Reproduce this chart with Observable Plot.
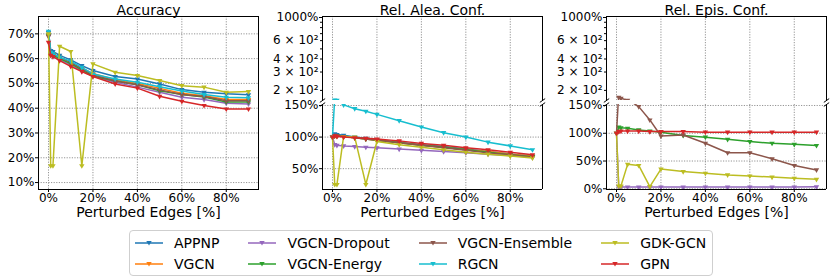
<!DOCTYPE html>
<html><head><meta charset="utf-8">
<script src="https://cdn.jsdelivr.net/npm/d3@7"></script>
<script src="https://cdn.jsdelivr.net/npm/@observablehq/plot@0.6"></script>
<style>
body{margin:0;background:#fff;font-family:"DejaVu Sans",sans-serif;}
#wrap{position:relative;width:830px;height:279px;overflow:hidden;}
#charts svg{position:absolute;left:0;top:0;}
#legend{position:absolute;left:129px;top:230px;box-sizing:border-box;border:1px solid #cfcfcf;border-radius:4px;
  display:inline-grid;grid-auto-flow:column;grid-template-rows:repeat(2,21px);grid-template-columns:repeat(4,auto);
  column-gap:29px;padding:1px 6px 1px 5px;font-size:14px;color:#000;}
.item{display:flex;align-items:center;white-space:nowrap;}
.item svg{margin-right:11px;}
</style></head><body>
<div id="wrap"><div id="charts"></div><div id="legend"></div></div>
<script>
// ---------- data ----------
const edges = [0, 1, 2, 5, 10, 15, 20, 30, 40, 50, 60, 70, 80, 90];
const models = ["APPNP", "VGCN", "VGCN-Dropout", "VGCN-Energy", "VGCN-Ensemble", "RGCN", "GDK-GCN", "GPN"];
const colors = ["#1f77b4", "#ff7f0e", "#9467bd", "#2ca02c", "#8c564b", "#17becf", "#bcbd22", "#d62728"];

const accuracy = {
  "APPNP":         [70.5, 63.3, 62.9, 61.3, 59.5, 57.2, 55.2, 52.8, 51.8, 49.8, 47.5, 46.4, 45.8, 45.4],
  "VGCN":          [69.5, 62.0, 61.5, 60.0, 58.0, 56.0, 54.0, 51.5, 50.0, 48.0, 46.0, 45.0, 43.5, 43.5],
  "VGCN-Dropout":  [69.0, 61.5, 61.0, 59.5, 57.5, 55.0, 53.0, 50.5, 48.5, 46.4, 44.4, 43.5, 42.0, 41.7],
  "VGCN-Energy":   [69.5, 62.0, 61.5, 60.0, 58.0, 55.5, 53.0, 51.0, 49.5, 47.0, 45.5, 44.5, 42.5, 42.5],
  "VGCN-Ensemble": [69.0, 62.5, 62.0, 60.5, 58.5, 56.0, 53.5, 51.0, 49.5, 47.4, 45.5, 44.7, 43.0, 43.0],
  "RGCN":          [71.0, 62.5, 62.0, 60.5, 59.0, 56.5, 53.8, 51.8, 50.5, 48.7, 46.9, 45.5, 44.4, 44.2],
  "GDK-GCN":       [70.0, 16.8, 16.8, 65.0, 62.9, 16.8, 57.9, 54.5, 53.2, 51.2, 49.1, 48.5, 46.4, 46.7],
  "GPN":           [66.6, 61.3, 60.8, 59.2, 56.9, 54.8, 52.8, 49.8, 48.1, 44.8, 42.8, 41.1, 39.7, 39.7]
};
const aleatoric = {
  "APPNP":         [100, 105, 104, 103, 100, 98, 96, 92, 88, 85, 81, 77, 73, 70],
  "VGCN":          [100, 102, 102, 101, 99, 97, 95, 91, 87, 84, 80, 77, 73, 70],
  "VGCN-Dropout":  [100, 88, 87, 86, 85, 84, 83, 81, 79, 77, 75, 73, 71, 68],
  "VGCN-Energy":   [100, 102, 102, 101, 99, 97, 95, 91, 87, 84, 80, 76, 72, 69],
  "VGCN-Ensemble": [100, 103, 102, 101, 99, 97, 95, 91, 87, 83, 79, 75, 72, 68],
  "RGCN":          [100, 162, 161, 151, 145, 141, 136, 126, 116, 107, 100, 92, 86, 80],
  "GDK-GCN":       [100, 25, 25, 101, 100, 25, 93, 88, 84, 80, 76, 73, 70, 67],
  "GPN":           [100, 102, 101, 100, 99, 98, 97, 94, 90, 87, 83, 80, 76, 72]
};
const epistemic = {
  "VGCN-Dropout":  [100, 3, 3, 3, 3, 3, 3, 3, 3, 3, 3, 3, 3, 3.5],
  "VGCN-Energy":   [100, 111, 110, 109, 106, 104, 102, 96, 93, 89, 85, 82, 80, 78],
  "VGCN-Ensemble": [100, 172, 168, 161, 148, 124, 95, 97, 82, 65, 65, 54, 42, 34],
  "GDK-GCN":       [100, 5, 5, 44, 42, 4, 35.5, 31, 28, 25, 23, 21, 19, 17],
  "GPN":           [100, 103, 104, 104, 104, 103, 103, 103, 102, 102, 102, 102, 102, 102]
};

const titles = ["Accuracy", "Rel. Alea. Conf.", "Rel. Epis. Conf."];
const xLabel = "Perturbed Edges [%]";
const xTicks = [0, 20, 40, 60, 80];
const accTicks = [10, 20, 30, 40, 50, 60, 70];
const aleaTicks = [50, 100, 150];
const episTicks = [0, 50, 100, 150];
const logMajorTicks = [1000];
const logMinorTicks = [200, 300, 400, 500, 600, 700, 800, 900];
const logLabelTicks = [200, 300, 400, 600];
const logLabelText = ["2 × 10²", "3 × 10²", "4 × 10²", "6 × 10²"];

// ---------- layout ----------
const W = 830, H = 230;
const xDomain = [-4.5, 94.5];
const pct = d => d + "%";
const gridStyle = {stroke: "#7a7a7a", strokeOpacity: 1, strokeWidth: 0.8, strokeDasharray: "1.2,1.4"};
const axisStyle = {tickSize: 3, tickPadding: 1, fontSize: 12, label: null, stroke: "black"};
const breakSymbol = {draw(ctx, size) { const s = Math.sqrt(size) / 2; ctx.moveTo(-s, s * 0.7); ctx.lineTo(s, -s * 0.7); }};

function seriesMarks(table) {
  const out = [];
  models.forEach((m, i) => {
    if (!table[m]) return;
    const rows = edges.map((x, j) => ({x, y: table[m][j]}));
    out.push(Plot.line(rows, {x: "x", y: "y", stroke: colors[i], strokeWidth: 1.5, clip: true}));
    out.push(Plot.dot(rows, {x: "x", y: "y", fill: colors[i], symbol: "triangle", rotate: 180, r: 2, clip: true}));
  });
  return out;
}

function chart(frame, yScale, marks) {
  const [l, r, t, b] = frame;
  return Plot.plot({
    width: W, height: H,
    marginLeft: l, marginRight: W - r, marginTop: t, marginBottom: H - b,
    x: {domain: xDomain, axis: null},
    y: {...yScale, axis: null},
    style: {fontFamily: "DejaVu Sans", fontSize: "12px", color: "black", background: "transparent", overflow: "visible"},
    marks
  });
}

const titleMark = t => Plot.text([t], {text: d => d, frameAnchor: "top", dy: -6, lineAnchor: "middle", fontSize: 14, fill: "black"});
const xLabelMark = () => Plot.text([xLabel], {text: d => d, frameAnchor: "bottom", dy: 23, lineAnchor: "middle", fontSize: 14, fill: "black"});
const breakMarks = yEdge => Plot.dot([xDomain[0], xDomain[1]], {x: d => d, y: () => yEdge, symbol: breakSymbol, r: 3, stroke: "black", fill: "none", strokeWidth: 1});

const charts = document.getElementById("charts");

// Panel 1: Accuracy
const accDomain = [7.2, 77];
charts.appendChild(chart([38, 258, 16, 189], {domain: accDomain}, [
  Plot.gridX(xTicks, gridStyle),
  Plot.gridY(accTicks, gridStyle),
  ...seriesMarks(accuracy),
  Plot.frame({stroke: "black", strokeWidth: 1}),
  Plot.axisX(xTicks, {...axisStyle, tickFormat: pct}),
  Plot.axisY(accTicks, {...axisStyle, tickFormat: pct}),
  titleMark(titles[0]),
  xLabelMark()
]));

// Broken-axis panels
function brokenPanel(left, right, table, lowDomain, lowTicks, title) {
  const logDomain = [160, 1022];
  charts.appendChild(chart([left, right, 16, 100], {type: "log", domain: logDomain}, [
    Plot.gridX(xTicks, gridStyle),
    ...seriesMarks(table),
    Plot.ruleX(xDomain, {stroke: "black", strokeWidth: 1}),
    Plot.ruleY([logDomain[1]], {stroke: "black", strokeWidth: 1}),
    Plot.axisY(logMajorTicks, {...axisStyle, tickFormat: pct}),
    Plot.axisY(logMinorTicks, {...axisStyle, tickSize: 2, tickFormat: () => ""}),
    Plot.text(logLabelTicks, {y: d => d, text: (d, i) => logLabelText[i], frameAnchor: "left", textAnchor: "end", dx: -4, fontSize: 12, fill: "black"}),
    breakMarks(logDomain[0]),
    titleMark(title)
  ]));
  charts.appendChild(chart([left, right, 104, 189], {domain: lowDomain}, [
    Plot.gridX(xTicks, gridStyle),
    Plot.gridY(lowTicks, gridStyle),
    ...seriesMarks(table),
    Plot.ruleX(xDomain, {stroke: "black", strokeWidth: 1}),
    Plot.ruleY([lowDomain[0]], {stroke: "black", strokeWidth: 1}),
    Plot.axisX(xTicks, {...axisStyle, tickFormat: pct}),
    Plot.axisY(lowTicks, {...axisStyle, tickFormat: pct}),
    breakMarks(lowDomain[1]),
    xLabelMark()
  ]));
}
brokenPanel(322, 542, aleatoric, [17, 151.6], aleaTicks, titles[1]);
brokenPanel(606, 826, epistemic, [-1.3, 151.8], episTicks, titles[2]);

// ---------- legend ----------
const legend = document.getElementById("legend");
models.forEach((m, i) => {
  const item = document.createElement("div");
  item.className = "item";
  item.innerHTML = `<svg width="28" height="10"><line x1="0" y1="5" x2="28" y2="5" stroke="${colors[i]}" stroke-width="1.5"/>` +
    `<path d="M11.3,3 L16.7,3 L14,7.6 Z" fill="${colors[i]}"/></svg><span>${m}</span>`;
  legend.appendChild(item);
});
</script>
</body></html>
